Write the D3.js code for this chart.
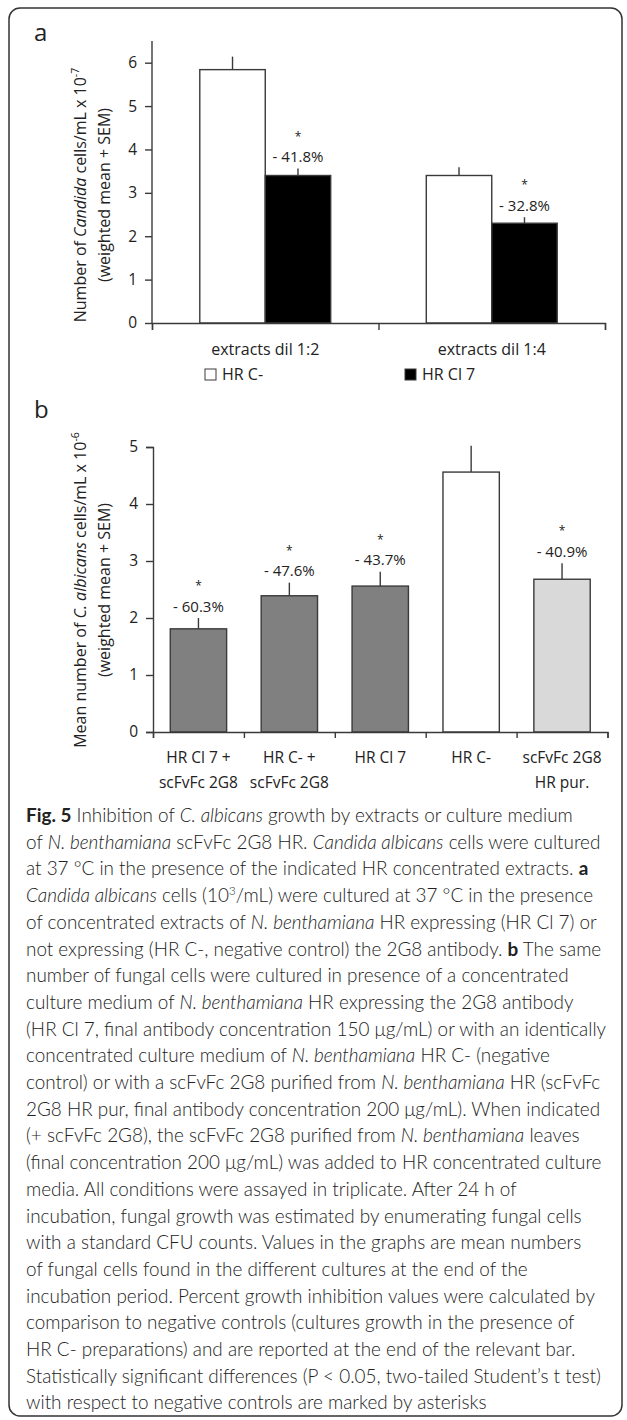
<!DOCTYPE html>
<html>
<head>
<meta charset="utf-8">
<script src="https://cdn.jsdelivr.net/npm/d3@7"></script>
<style>
  body { margin: 0; background: #fff; }
  svg text { fill: #222; }
</style>
</head>
<body>
<div id="fig"></div>
<script>
// ---- panel a data ----
var groupsA = ["extracts dil 1:2", "extracts dil 1:4"];
var seriesA = ["HR C-", "HR Cl 7"];
var hrCminusA = [5.84, 3.40];
var hrCminusSemA = [0.30, 0.19];
var hrCl7A = [3.40, 2.30];
var hrCl7SemA = [0.16, 0.14];
var inhibA = ["- 41.8%", "- 32.8%"];
var ticksA = [0, 1, 2, 3, 4, 5, 6];

// ---- panel b data ----
var catsB = [["HR Cl 7 +", "scFvFc 2G8"], ["HR C- +", "scFvFc 2G8"], ["HR Cl 7"], ["HR C-"], ["scFvFc 2G8", "HR pur."]];
var valuesB = [1.81, 2.39, 2.56, 4.56, 2.68];
var semB = [0.19, 0.23, 0.25, 0.46, 0.28];
var inhibB = ["- 60.3%", "- 47.6%", "- 43.7%", "", "- 40.9%"];
var ticksB = [0, 1, 2, 3, 4, 5];

// caption lines, parts: [text, style] (n normal, i italic, b bold, s superscript)
var caption = [
  [["Fig. 5", "b"], [" Inhibition of ", "n"], ["C. albicans", "i"], [" growth by extracts or culture medium", "n"]],
  [["of ", "n"], ["N. benthamiana", "i"], [" scFvFc 2G8 HR. ", "n"], ["Candida albicans", "i"], [" cells were cultured", "n"]],
  [["at 37 °C in the presence of the indicated HR concentrated extracts. ", "n"], ["a", "b"]],
  [["Candida albicans", "i"], [" cells (10", "n"], ["3", "s"], ["/mL) were cultured at 37 °C in the presence", "n"]],
  [["of concentrated extracts of ", "n"], ["N. benthamiana", "i"], [" HR expressing (HR Cl 7) or", "n"]],
  [["not expressing (HR C-, negative control) the 2G8 antibody. ", "n"], ["b", "b"], [" The same", "n"]],
  [["number of fungal cells were cultured in presence of a concentrated", "n"]],
  [["culture medium of ", "n"], ["N. benthamiana", "i"], [" HR expressing the 2G8 antibody", "n"]],
  [["(HR Cl 7, final antibody concentration 150 μg/mL) or with an identically", "n"]],
  [["concentrated culture medium of ", "n"], ["N. benthamiana", "i"], [" HR C- (negative", "n"]],
  [["control) or with a scFvFc 2G8 purified from ", "n"], ["N. benthamiana", "i"], [" HR (scFvFc", "n"]],
  [["2G8 HR pur, final antibody concentration 200 μg/mL). When indicated", "n"]],
  [["(+ scFvFc 2G8), the scFvFc 2G8 purified from ", "n"], ["N. benthamiana", "i"], [" leaves", "n"]],
  [["(final concentration 200 μg/mL) was added to HR concentrated culture", "n"]],
  [["media. All conditions were assayed in triplicate. After 24 h of", "n"]],
  [["incubation, fungal growth was estimated by enumerating fungal cells", "n"]],
  [["with a standard CFU counts. Values in the graphs are mean numbers", "n"]],
  [["of fungal cells found in the different cultures at the end of the", "n"]],
  [["incubation period. Percent growth inhibition values were calculated by", "n"]],
  [["comparison to negative controls (cultures growth in the presence of", "n"]],
  [["HR C- preparations) and are reported at the end of the relevant bar.", "n"]],
  [["Statistically significant differences (P < 0.05, two-tailed Student’s t test)", "n"]],
  [["with respect to negative controls are marked by asterisks", "n"]]
];

var width = 627, height = 1420;
var chartFont = "'Open Sans', sans-serif";
var capFont = "Lato, sans-serif";
var axisColor = "#3a3a3a";

var svg = d3.select("#fig").append("svg")
  .attr("width", width)
  .attr("height", height)
  .style("font-family", chartFont);

// outer frame
svg.append("rect")
  .attr("x", 9).attr("y", 8)
  .attr("width", 613).attr("height", 1408)
  .attr("rx", 11)
  .attr("fill", "none")
  .attr("stroke", "#333")
  .attr("stroke-width", 1.5);

// helper: error bar + labels above a bar
function errorBar(g, cx, yTop, yErr) {
  g.append("line")
    .attr("x1", cx).attr("x2", cx)
    .attr("y1", yTop).attr("y2", yErr)
    .attr("stroke", axisColor).attr("stroke-width", 1.4);
}
function pctLabel(g, cx, yErr, txt) {
  if (!txt) return;
  g.append("text")
    .attr("x", cx).attr("y", yErr - 6.5)
    .attr("text-anchor", "middle")
    .style("font-size", "15px")
    .text(txt);
  g.append("text")
    .attr("x", cx).attr("y", yErr - 28)
    .attr("text-anchor", "middle")
    .style("font-size", "12px")
    .text("*");
}
function yLabel(g, cx, cy, line1Parts, line2) {
  var t = g.append("text")
    .attr("transform", "translate(" + cx + "," + cy + ") rotate(-90)")
    .attr("text-anchor", "middle")
    .style("font-size", "16px");
  line1Parts.forEach(function (p) {
    var ts = t.append("tspan").text(p[0]);
    if (p[1] == "i") ts.style("font-style", "italic");
    if (p[1] == "s") ts.attr("dy", -7).style("font-size", "10.5px");
  });
  g.append("text")
    .attr("transform", "translate(" + (cx + 24) + "," + cy + ") rotate(-90)")
    .attr("text-anchor", "middle")
    .style("font-size", "16px")
    .text(line2);
}
function styleAxis(a) {
  a.select(".domain").attr("stroke", axisColor).attr("stroke-width", 1.4);
  a.selectAll(".tick line").attr("stroke", axisColor).attr("stroke-width", 1.4);
  a.selectAll("text").style("font-size", "15.5px").style("font-family", chartFont).attr("fill", "#222");
}

// ================= panel a =================
var ga = svg.append("g");
ga.append("text").attr("x", 34).attr("y", 41).style("font-size", "24px").text("a");

var xA = d3.scaleBand().domain(groupsA).range([152, 605]).padding(0);
var xSubA = d3.scaleBand().domain(seriesA).range([0, xA.bandwidth()]).paddingInner(0).paddingOuter(0.73);
var yA = d3.scaleLinear().domain([0, 6.5]).range([323, 41]);

var rowsA = groupsA.map(function (g, i) {
  return [
    { group: g, series: seriesA[0], v: hrCminusA[i], sem: hrCminusSemA[i], pct: "" },
    { group: g, series: seriesA[1], v: hrCl7A[i], sem: hrCl7SemA[i], pct: inhibA[i] }
  ];
});
var flatA = [].concat.apply([], rowsA);

flatA.forEach(function (d) {
  var x0 = xA(d.group) + xSubA(d.series);
  var cx = x0 + xSubA.bandwidth() / 2;
  errorBar(ga, cx, yA(d.v), yA(d.v + d.sem));
  pctLabel(ga, cx, yA(d.v + d.sem), d.pct);
});
ga.selectAll("rect.bar")
  .data(flatA)
  .enter().append("rect")
  .attr("class", "bar")
  .attr("x", function (d) { return xA(d.group) + xSubA(d.series); })
  .attr("y", function (d) { return yA(d.v); })
  .attr("width", xSubA.bandwidth())
  .attr("height", function (d) { return yA(0) - yA(d.v); })
  .attr("fill", function (d) { return d.series == "HR C-" ? "#fff" : "#000"; })
  .attr("stroke", axisColor)
  .attr("stroke-width", 1.4);

// y axis a
var yAxisA = ga.append("g")
  .attr("transform", "translate(152,0)")
  .call(d3.axisLeft(yA).tickValues(ticksA).tickSize(7).tickPadding(8).tickFormat(d3.format("d")));
// x axis a (ticks between categories)
var xLinA = d3.scaleLinear().domain([0, groupsA.length]).range(xA.range());
var xAxisA = ga.append("g")
  .attr("transform", "translate(0," + yA(0) + ")")
  .call(d3.axisBottom(xLinA).tickValues(d3.range(groupsA.length + 1)).tickSize(7).tickFormat(""));
styleAxis(yAxisA);
styleAxis(xAxisA);
// y axis line up to top
yAxisA.select(".domain").attr("d", "M0," + yA(6.5) + "V" + yA(0));

ga.selectAll("text.cat")
  .data(groupsA)
  .enter().append("text")
  .attr("class", "cat")
  .attr("x", function (d) { return xA(d) + xA.bandwidth() / 2; })
  .attr("y", 355)
  .attr("text-anchor", "middle")
  .style("font-size", "16px")
  .text(function (d) { return d; });

// legend a
var legX = [205, 405];
seriesA.forEach(function (s, i) {
  ga.append("rect")
    .attr("x", legX[i]).attr("y", 369)
    .attr("width", 11).attr("height", 11)
    .attr("fill", i == 0 ? "#fff" : "#000")
    .attr("stroke", axisColor).attr("stroke-width", 1);
  ga.append("text")
    .attr("x", legX[i] + 17).attr("y", 380)
    .style("font-size", "16px")
    .text(s);
});

yLabel(ga, 86, 195, [["Number of ", "n"], ["Candida", "i"], [" cells/mL x 10", "n"], ["-7", "s"]], "(weighted mean + SEM)");

// ================= panel b =================
var gb = svg.append("g");
gb.append("text").attr("x", 34).attr("y", 418).style("font-size", "24px").text("b");

var xB = d3.scaleBand().domain(d3.range(catsB.length)).range([153, 607.5]).paddingInner(0.38).paddingOuter(0.19);
var yB = d3.scaleLinear().domain([0, 5]).range([732, 447]);
var fillB = ["#808080", "#808080", "#808080", "#ffffff", "#d9d9d9"];

valuesB.forEach(function (v, i) {
  var cx = xB(i) + xB.bandwidth() / 2;
  errorBar(gb, cx, yB(v), yB(v + semB[i]));
  pctLabel(gb, cx, yB(v + semB[i]), inhibB[i]);
});
gb.selectAll("rect.bar")
  .data(valuesB)
  .enter().append("rect")
  .attr("class", "bar")
  .attr("x", function (d, i) { return xB(i); })
  .attr("y", function (d) { return yB(d); })
  .attr("width", xB.bandwidth())
  .attr("height", function (d) { return yB(0) - yB(d); })
  .attr("fill", function (d, i) { return fillB[i]; })
  .attr("stroke", axisColor)
  .attr("stroke-width", 1.4);

var yAxisB = gb.append("g")
  .attr("transform", "translate(153,0)")
  .call(d3.axisLeft(yB).tickValues(ticksB).tickSize(7).tickPadding(8).tickFormat(d3.format("d")));
var xLinB = d3.scaleLinear().domain([0, catsB.length]).range([153, 607.5]);
var xAxisB = gb.append("g")
  .attr("transform", "translate(0," + yB(0) + ")")
  .call(d3.axisBottom(xLinB).tickValues(d3.range(catsB.length + 1)).tickSize(6).tickFormat(""));
styleAxis(yAxisB);
styleAxis(xAxisB);

catsB.forEach(function (lines, i) {
  var t = gb.append("text")
    .attr("x", xB(i) + xB.bandwidth() / 2)
    .attr("y", 763)
    .attr("text-anchor", "middle")
    .style("font-size", "15.5px");
  lines.forEach(function (l, k) {
    t.append("tspan")
      .attr("x", xB(i) + xB.bandwidth() / 2)
      .attr("dy", k == 0 ? 0 : 25)
      .text(l);
  });
});

yLabel(gb, 86, 590, [["Mean number of ", "n"], ["C. albicans", "i"], [" cells/mL x 10", "n"], ["-6", "s"]], "(weighted mean + SEM)");

// ================= caption =================
var cap = svg.append("g").style("font-family", capFont);
caption.forEach(function (parts, i) {
  var t = cap.append("text")
    .attr("x", 26)
    .attr("y", 822 + i * 26.7)
    .style("font-size", "18.9px")
    .style("font-weight", 300);
  parts.forEach(function (p, k) {
    var ts = t.append("tspan").text(p[0]);
    if (p[1] == "i") ts.style("font-style", "italic");
    if (p[1] == "b") ts.style("font-weight", "bold");
    if (p[1] == "s") ts.attr("dy", -7).style("font-size", "12px");
    if (k > 0 && parts[k - 1][1] == "s") ts.attr("dy", 7);
  });
});
</script>
</body>
</html>
